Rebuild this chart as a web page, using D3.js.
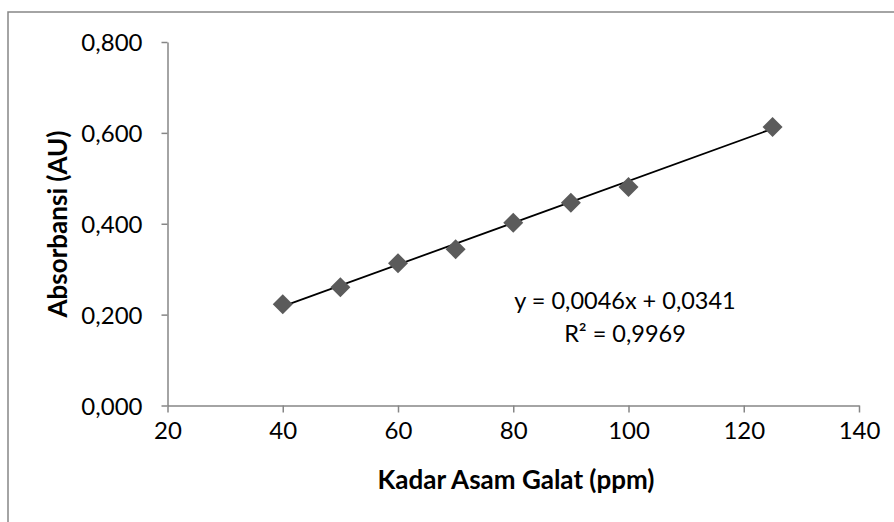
<!DOCTYPE html>
<html>
<head>
<meta charset="utf-8">
<script src="https://cdn.jsdelivr.net/npm/d3@7"></script>
<style>
  body { margin: 0; background: #fff; }
  svg { display: block; }
  text { font-family: Lato, "Open Sans", sans-serif; fill: #000; }
</style>
</head>
<body>
<div id="chart"></div>
<script>
// data
var kadar = [40, 50, 60, 70, 80, 90, 100, 125];
var absorbansi = [0.223, 0.260, 0.313, 0.344, 0.402, 0.446, 0.481, 0.613];

var xTicks = [20, 40, 60, 80, 100, 120, 140];
var yTicks = [0, 0.2, 0.4, 0.6, 0.8];

// trendline from the label: y = 0,0046x + 0,0341
var trendCoef = [0.0046, 0.0341];
var trendRange = [40, 125];
var trendLabel = ["y = 0,0046x + 0,0341", "R² = 0,9969"];

// svg area
var svgWidth = 894;
var svgHeight = 522;

var margin = { top: 42, left: 167.5, right: 35, bottom: 116.5 };
var chartWidth = svgWidth - margin.left - margin.right;
var chartHeight = svgHeight - margin.top - margin.bottom;

var svg = d3.select("#chart")
    .append("svg")
    .attr("width", svgWidth)
    .attr("height", svgHeight);

// outer frame of the chart
svg.append("rect")
    .attr("x", 8)
    .attr("y", 12)
    .attr("width", 900)
    .attr("height", 530)
    .attr("fill", "none")
    .attr("stroke", "#868686")
    .attr("stroke-width", 1.5);

var chartGroup = svg.append("g")
    .attr("transform", `translate(${margin.left}, ${margin.top})`);

var xScale = d3.scaleLinear().domain([20, 140]).range([0, chartWidth]);
var yScale = d3.scaleLinear().domain([0, 0.8]).range([chartHeight, 0]);

var fmtY = function(d) { return d3.format(".3f")(d).replace(".", ","); };

// axes
var xAxis = chartGroup.append("g")
    .attr("transform", `translate(0, ${chartHeight})`)
    .call(d3.axisBottom(xScale).tickValues(xTicks).tickSize(7).tickPadding(9).tickSizeOuter(0));

var yAxis = chartGroup.append("g")
    .call(d3.axisLeft(yScale).tickValues(yTicks).tickFormat(fmtY).tickSize(6).tickPadding(19).tickSizeOuter(0));

[xAxis, yAxis].forEach(function(ax) {
    ax.select(".domain").attr("stroke", "#868686").attr("stroke-width", 1.5);
    ax.selectAll(".tick line").attr("stroke", "#868686").attr("stroke-width", 1.5);
    ax.selectAll(".tick text")
        .style("font-family", "Lato, sans-serif")
        .style("font-size", "24px")
        .attr("fill", "#000");
});
yAxis.selectAll(".tick text").attr("dy", "0.36em");

// trendline
chartGroup.append("line")
    .attr("x1", xScale(trendRange[0]))
    .attr("y1", yScale(trendCoef[0] * trendRange[0] + trendCoef[1]))
    .attr("x2", xScale(trendRange[1]))
    .attr("y2", yScale(trendCoef[0] * trendRange[1] + trendCoef[1]))
    .attr("stroke", "#000")
    .attr("stroke-width", 1.8);

// diamond markers
chartGroup.selectAll(".point")
    .data(kadar)
    .enter()
    .append("path")
    .attr("class", "point")
    .attr("d", d3.symbol().type(d3.symbolSquare).size(200))
    .attr("transform", (d, i) => `translate(${xScale(d)}, ${yScale(absorbansi[i])}) rotate(45)`)
    .attr("fill", "#5b5b5b");

// equation label
var eq = svg.append("text")
    .attr("x", 625)
    .attr("y", 309)
    .attr("text-anchor", "middle")
    .style("font-size", "23.5px");
eq.selectAll("tspan")
    .data(trendLabel)
    .enter()
    .append("tspan")
    .attr("x", 625)
    .attr("dy", (d, i) => i === 0 ? 0 : 33)
    .text(d => d);

// axis titles
svg.append("text")
    .attr("x", 516)
    .attr("y", 489)
    .attr("text-anchor", "middle")
    .style("font-size", "26px")
    .style("font-weight", "bold")
    .text("Kadar Asam Galat (ppm)");

svg.append("text")
    .attr("transform", "translate(67, 224) rotate(-90)")
    .attr("text-anchor", "middle")
    .style("font-size", "26px")
    .style("font-weight", "bold")
    .text("Absorbansi (AU)");
</script>
</body>
</html>
